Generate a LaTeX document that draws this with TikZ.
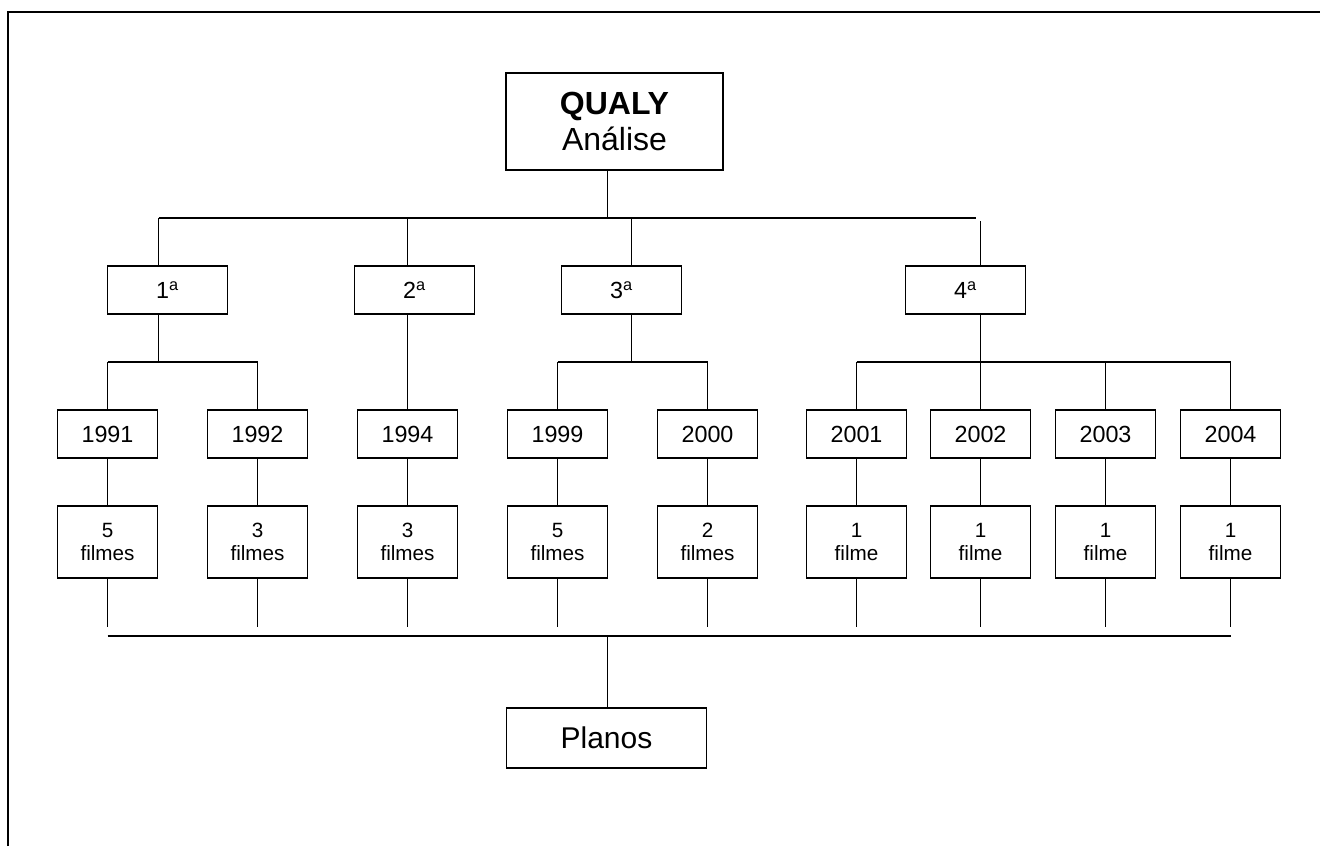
\documentclass[tikz,border=0pt]{standalone}
\usepackage{fontspec}
\setmainfont{Liberation Sans}
\begin{document}
\begin{tikzpicture}[x=0.75pt,y=-0.75pt,line width=1.4pt,
  box/.style={draw, inner sep=0pt, align=center},
  topbox/.style={box, minimum width=217*0.75pt, minimum height=97*0.75pt, font=\fontsize{24}{27}\selectfont},
  lvbox/.style={box, minimum width=120*0.75pt, minimum height=48*0.75pt, font=\fontsize{17.5}{20}\selectfont},
  yrbox/.style={box, minimum width=100*0.75pt, minimum height=48*0.75pt, font=\fontsize{17.5}{20}\selectfont},
  fmbox/.style={box, minimum width=100*0.75pt, minimum height=72*0.75pt, font=\fontsize{15.5}{17.3}\selectfont},
  plbox/.style={box, minimum width=200*0.75pt, minimum height=60*0.75pt, font=\fontsize{22.5}{26}\selectfont},
  frame/.style={line width=1.8pt}]
\useasboundingbox (0,0) rectangle (1320,846);
% frame
\draw[frame] (8,846) -- (8,12) -- (1320,12);

% nodes
\node[topbox] (top) at (614.5,121.5) {\textbf{QUALY}\\Análise};
\node[lvbox] (g1) at (167.5,290) {1\textsuperscript{a}};
\node[lvbox] (g2) at (414.5,290) {2\textsuperscript{a}};
\node[lvbox] (g3) at (621.5,290) {3\textsuperscript{a}};
\node[lvbox] (g4) at (965.5,290) {4\textsuperscript{a}};

\node[yrbox] (y1) at (107.5,434) {1991};
\node[yrbox] (y2) at (257.5,434) {1992};
\node[yrbox] (y3) at (407.5,434) {1994};
\node[yrbox] (y4) at (557.5,434) {1999};
\node[yrbox] (y5) at (707.5,434) {2000};
\node[yrbox] (y6) at (856.5,434) {2001};
\node[yrbox] (y7) at (980.5,434) {2002};
\node[yrbox] (y8) at (1105.5,434) {2003};
\node[yrbox] (y9) at (1230.5,434) {2004};

\node[fmbox] (f1) at (107.5,542) {5\\filmes};
\node[fmbox] (f2) at (257.5,542) {3\\filmes};
\node[fmbox] (f3) at (407.5,542) {3\\filmes};
\node[fmbox] (f4) at (557.5,542) {5\\filmes};
\node[fmbox] (f5) at (707.5,542) {2\\filmes};
\node[fmbox] (f6) at (856.5,542) {1\\filme};
\node[fmbox] (f7) at (980.5,542) {1\\filme};
\node[fmbox] (f8) at (1105.5,542) {1\\filme};
\node[fmbox] (f9) at (1230.5,542) {1\\filme};
\node[plbox] (pl) at (606.5,738) {Planos};

% bus coordinates
\coordinate (b0) at (607.5,218);
\coordinate (bA) at (158.5,218);
\coordinate (bB) at (975.5,218);
\coordinate (s1) at (158.5,266);
\coordinate (s2) at (407.5,266);
\coordinate (s3) at (631.5,266);
\coordinate (s4) at (980.5,266);
\coordinate (h1) at (158.5,362);
\coordinate (h3) at (631.5,362);
\coordinate (h4) at (980.5,362);
\coordinate (bot) at (607.5,636);

% top level
\draw (top.south -| b0) -- (b0);
\draw (bA) -- (bB);
\draw (bA) -- (s1);
\draw (s2 |- b0) -- (s2);
\draw (s3 |- b0) -- (s3);
\draw (980.5,221) -- (s4);

% groups
\draw (g1.south -| h1) -- (h1);
\draw (y1 |- h1) -- (y2 |- h1);
\draw (y1 |- h1) -- (y1.north);
\draw (y2 |- h1) -- (y2.north);

\draw (g2.south -| y3) -- (y3.north);

\draw (g3.south -| h3) -- (h3);
\draw (y4 |- h3) -- (y5 |- h3);
\draw (y4 |- h3) -- (y4.north);
\draw (y5 |- h3) -- (y5.north);

\draw (g4.south -| h4) -- (h4);
\draw (y6 |- h4) -- (y9 |- h4);
\foreach \n in {y6,y7,y8,y9}{ \draw (\n |- h4) -- (\n.north); }

% years to films and films down
\foreach \i in {1,...,9}{
  \draw (y\i.south) -- (f\i.north);
  \draw (f\i.south) -- (f\i.south |- 0,627);
}
\draw (y1 |- bot) -- (y9 |- bot);
\draw (bot) -- (pl.north -| bot);
\end{tikzpicture}
\end{document}
